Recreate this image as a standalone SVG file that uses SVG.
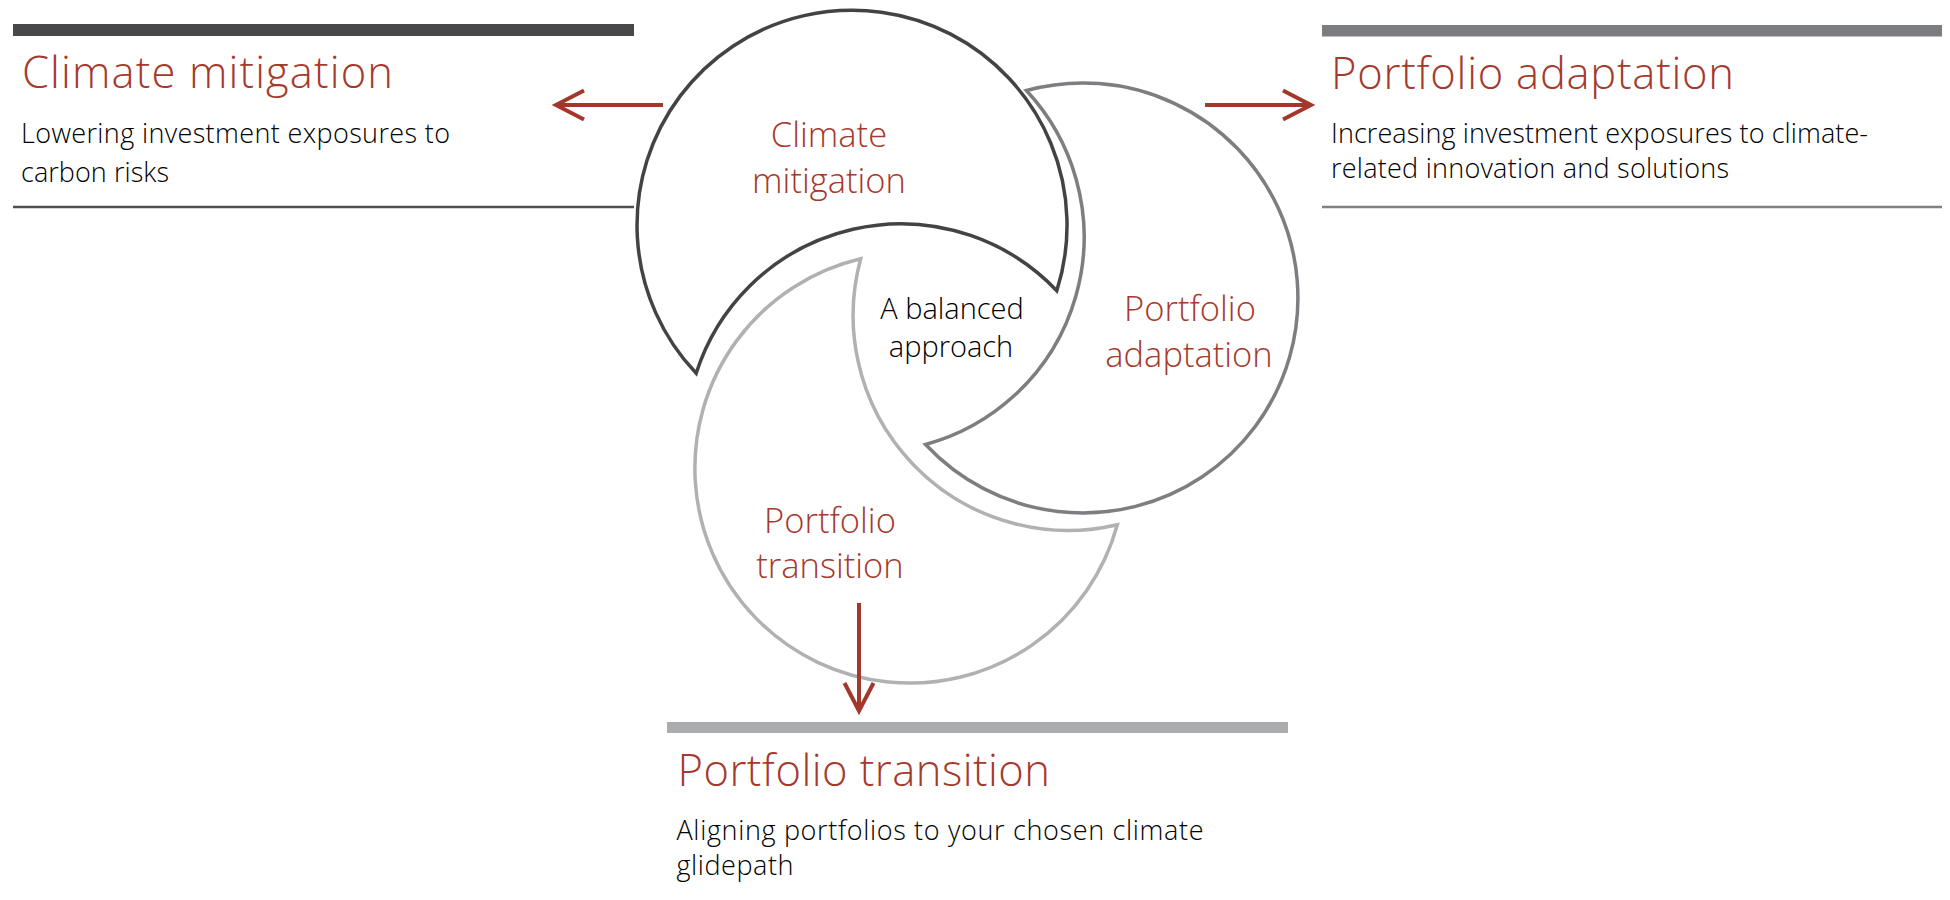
<svg xmlns="http://www.w3.org/2000/svg" width="1950" height="900" viewBox="0 0 1950 900">
  <defs>
    <style>
      .txt { font-family: "Open Sans", "Liberation Sans", sans-serif; font-weight: 300; }
      .title { font-size: 43.5px; fill: #a5392c; }
      .body { font-size: 27px; fill: #000000; }
      .label { font-size: 34.5px; fill: #a5392c; text-anchor: middle; }
      .center { font-size: 29px; fill: #000000; text-anchor: middle; }
      .shape { fill: #ffffff; stroke-width: 3.5; stroke-linejoin: miter; stroke-miterlimit: 20; }
      .conn { stroke: #a3372b; stroke-width: 4; fill: none; }
    </style>
    <marker id="chev" markerUnits="userSpaceOnUse" viewBox="-34 -20 38 40" refX="0" refY="0" markerWidth="38" markerHeight="40" orient="auto" overflow="visible">
      <path d="M-28,-14.5 L0,0 L-28,14.5" fill="none" stroke="#a3372b" stroke-width="4" stroke-linejoin="miter"/>
    </marker>
  </defs>

  <rect width="1950" height="900" fill="#ffffff"/>

  <!-- Side panels -->
  <g id="panel-mitigation">
    <rect x="13" y="24" width="621" height="12" fill="#48484a"/>
    <text class="txt title" x="22" y="88" textLength="371">Climate mitigation</text>
    <text class="txt body" x="21" y="143" textLength="429">Lowering investment exposures to</text>
    <text class="txt body" x="21" y="182" textLength="148">carbon risks</text>
    <line x1="13" y1="207" x2="634" y2="207" stroke="#4f4f51" stroke-width="2.5"/>
  </g>

  <g id="panel-adaptation">
    <rect x="1322" y="25" width="620" height="11.5" fill="#7c7d80"/>
    <text class="txt title" x="1331" y="89" textLength="403">Portfolio adaptation</text>
    <text class="txt body" x="1331" y="143" textLength="537">Increasing investment exposures to climate-</text>
    <text class="txt body" x="1331" y="178" textLength="398">related innovation and solutions</text>
    <line x1="1322" y1="207" x2="1942" y2="207" stroke="#808184" stroke-width="2.5"/>
  </g>

  <g id="panel-transition">
    <rect x="667" y="722" width="621" height="11" fill="#abacae"/>
    <text class="txt title" x="677.5" y="786" textLength="372.5">Portfolio transition</text>
    <text class="txt body" x="676.5" y="840" textLength="527">Aligning portfolios to your chosen climate</text>
    <text class="txt body" x="676.5" y="875" textLength="117">glidepath</text>
  </g>

  <!-- Swirl nodes -->
  <g id="node-mitigation">
    <path class="shape" stroke="#434345" d="M696.2,373.3 A215,215 0 1 1 1056.8,290.7 A215,215 0 0 0 696.2,373.3 Z"/>
    <text class="txt label" x="829" y="147">Climate</text>
    <text class="txt label" x="829" y="193">mitigation</text>
  </g>

  <g id="node-adaptation">
    <path class="shape" stroke="#7d7e81" d="M1026.4,90.5 A215,215 0 1 1 925.6,444.5 A215,215 0 0 0 1026.4,90.5 Z"/>
    <text class="txt label" x="1190" y="321">Portfolio</text>
    <text class="txt label" x="1189" y="367">adaptation</text>
  </g>

  <g id="node-transition">
    <path class="shape" stroke="#b0b1b3" d="M860.7,258.8 A215,215 0 1 0 1117.3,524.7 A215,215 0 0 1 860.7,258.8 Z"/>
    <text class="txt label" x="830" y="533">Portfolio</text>
    <text class="txt label" x="830" y="578">transition</text>
  </g>

  <g id="node-center">
    <text class="txt center" x="952" y="319">A balanced</text>
    <text class="txt center" x="951" y="357">approach</text>
  </g>

  <!-- Connectors -->
  <g id="connectors">
    <line class="conn" x1="663" y1="105" x2="556" y2="105" marker-end="url(#chev)"/>
    <line class="conn" x1="1205" y1="105" x2="1311" y2="105" marker-end="url(#chev)"/>
    <line class="conn" x1="859" y1="603" x2="859" y2="711" marker-end="url(#chev)"/>
  </g>
</svg>
